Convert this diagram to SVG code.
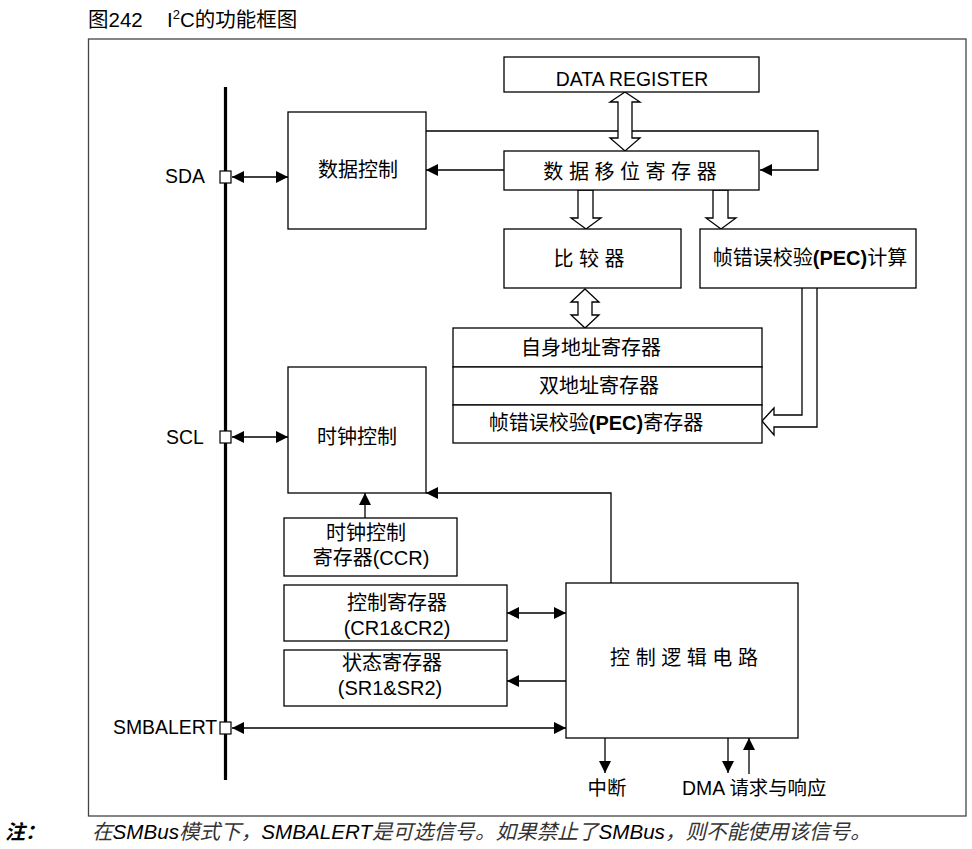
<svg xmlns="http://www.w3.org/2000/svg" width="972" height="849" viewBox="0 0 972 849">
<defs>
<style>
.box{fill:#fff;stroke:#000;stroke-width:1.3}
.t{font-family:"Liberation Sans","Noto Sans CJK SC",sans-serif;font-size:20px;fill:#000}
.m{text-anchor:middle}
.l{font-size:19.4px}
.c{fill:none;stroke:#000;stroke-width:1.3}
.h{fill:#fff;stroke:#000;stroke-width:1.3;stroke-linejoin:miter}
.b{font-weight:bold}
</style>
<marker id="ah" markerUnits="userSpaceOnUse" markerWidth="12" markerHeight="12" refX="12" refY="6" orient="auto-start-reverse">
<path d="M0,0 L12,6 L0,12 Z" fill="#000"/>
</marker>
</defs>
<rect width="972" height="849" fill="#fff"/>

<g id="title">
<text class="t" x="88" y="27" style="font-size:20.5px">图242</text>
<text class="t" x="167" y="27" style="font-size:20.5px">I<tspan style="font-size:13px" dy="-8">2</tspan><tspan dy="8">C的功能框图</tspan></text>
</g>

<rect id="frame" x="88.5" y="39" width="877.5" height="777" fill="none" stroke="#444" stroke-width="1.3"/>

<g id="bus">
<line x1="225.5" y1="87" x2="225.5" y2="780" stroke="#000" stroke-width="3.2"/>
</g>

<g id="connectors">
<path class="c" d="M426,131 H818 V170 H760" marker-end="url(#ah)"/>
<path class="c" d="M504,170 H426" marker-end="url(#ah)"/>
<path class="c" d="M232,177 H288" marker-start="url(#ah)" marker-end="url(#ah)"/>
<path class="c" d="M232,437 H288" marker-start="url(#ah)" marker-end="url(#ah)"/>
<path class="c" d="M611,583 V493 H426" marker-end="url(#ah)"/>
<path class="c" d="M365,518 V493" marker-end="url(#ah)"/>
<path class="c" d="M507,613 H566" marker-start="url(#ah)" marker-end="url(#ah)"/>
<path class="c" d="M568,681 H507" marker-end="url(#ah)"/>
<path class="c" d="M232,728 H566" marker-start="url(#ah)" marker-end="url(#ah)"/>
<path class="c" d="M605,738 V773" marker-end="url(#ah)"/>
<path class="c" d="M728,738 V773" marker-end="url(#ah)"/>
<path class="c" d="M749,774 V738" marker-end="url(#ah)"/>
<polygon class="h" points="625,92 640,102 632,102 632,138 640,138 625,151 610,138 618,138 618,102 610,102"/>
<polygon class="h" points="578,190 578,218 571,218 586,229 601,218 593,218 593,190"/>
<polygon class="h" points="713,190 713,218 706,218 721,229 736,218 728,218 728,190"/>
<polygon class="h" points="585,289 599,302 592,302 592,315 599,315 585,328 571,315 578,315 578,302 571,302"/>
<path class="h" d="M802,288 V415 H774 V408 L762,421 L774,435 V427 H817 V288"/>
</g>

<g id="pins">
<rect x="220" y="171" width="11" height="12" fill="#fff" stroke="#000" stroke-width="1.2"/>
<text class="t l" x="165" y="183">SDA</text>
<rect x="220" y="431" width="11" height="12" fill="#fff" stroke="#000" stroke-width="1.2"/>
<text class="t l" x="166" y="444">SCL</text>
<rect x="220" y="722" width="11" height="12" fill="#fff" stroke="#000" stroke-width="1.2"/>
<text class="t l" x="113" y="734">SMBALERT</text>
</g>

<g id="data-register">
<rect class="box" x="504" y="57" width="255" height="35"/>
<text class="t l m" x="632" y="86">DATA REGISTER</text>
</g>

<g id="shift-register">
<rect class="box" x="504" y="151" width="255" height="39"/>
<text class="t m" x="630" y="179">数 据 移 位 寄 存 器</text>
</g>

<g id="data-control">
<rect class="box" x="288" y="112" width="138" height="117"/>
<text class="t m" x="358" y="177">数据控制</text>
</g>

<g id="comparator">
<rect class="box" x="504" y="229" width="177" height="59"/>
<text class="t m" x="589" y="266">比 较 器</text>
</g>

<g id="pec-calc">
<rect class="box" x="700" y="229" width="216" height="59"/>
<text class="t m" x="810" y="265">帧错误校验<tspan class="b">(PEC)</tspan>计算</text>
</g>

<g id="address-registers">
<rect class="box" x="453" y="328" width="309" height="39"/>
<text class="t m" x="591" y="355">自身地址寄存器</text>
<rect class="box" x="453" y="367" width="309" height="38"/>
<text class="t m" x="599" y="393">双地址寄存器</text>
<rect class="box" x="453" y="405" width="309" height="38"/>
<text class="t m" x="596" y="430">帧错误校验<tspan class="b">(PEC)</tspan>寄存器</text>
</g>

<g id="clock-control">
<rect class="box" x="288" y="367" width="138" height="126"/>
<text class="t m" x="357" y="444">时钟控制</text>
</g>

<g id="ccr">
<rect class="box" x="284" y="518" width="173" height="58"/>
<text class="t m" x="366" y="540">时钟控制</text>
<text class="t m" x="371" y="565">寄存器(CCR)</text>
</g>

<g id="cr">
<rect class="box" x="284" y="585" width="223" height="56"/>
<text class="t m" x="397" y="610">控制寄存器</text>
<text class="t m" x="397" y="635">(CR1&amp;CR2)</text>
</g>

<g id="sr">
<rect class="box" x="284" y="650" width="223" height="56"/>
<text class="t m" x="392" y="670">状态寄存器</text>
<text class="t m" x="390" y="695">(SR1&amp;SR2)</text>
</g>

<g id="control-logic">
<rect class="box" x="566" y="583" width="232" height="155"/>
<text class="t m" x="684" y="665">控 制 逻 辑 电 路</text>
</g>

<g id="outputs">
<text class="t l m" x="607" y="795">中断</text>
<text class="t l" x="682" y="795">DMA 请求与响应</text>
</g>

<g id="note">
<text class="t b" x="5" y="839" style="font-style:italic">注：</text>
<text class="t" x="92" y="839" style="font-size:20.6px;font-style:italic"><tspan fill="#333">在</tspan>SMBus<tspan fill="#333">模式下，</tspan>SMBALERT<tspan fill="#333">是可选信号。如果禁止了</tspan>SMBus<tspan fill="#333">，则不能使用该信号。</tspan></text>
</g>
</svg>
